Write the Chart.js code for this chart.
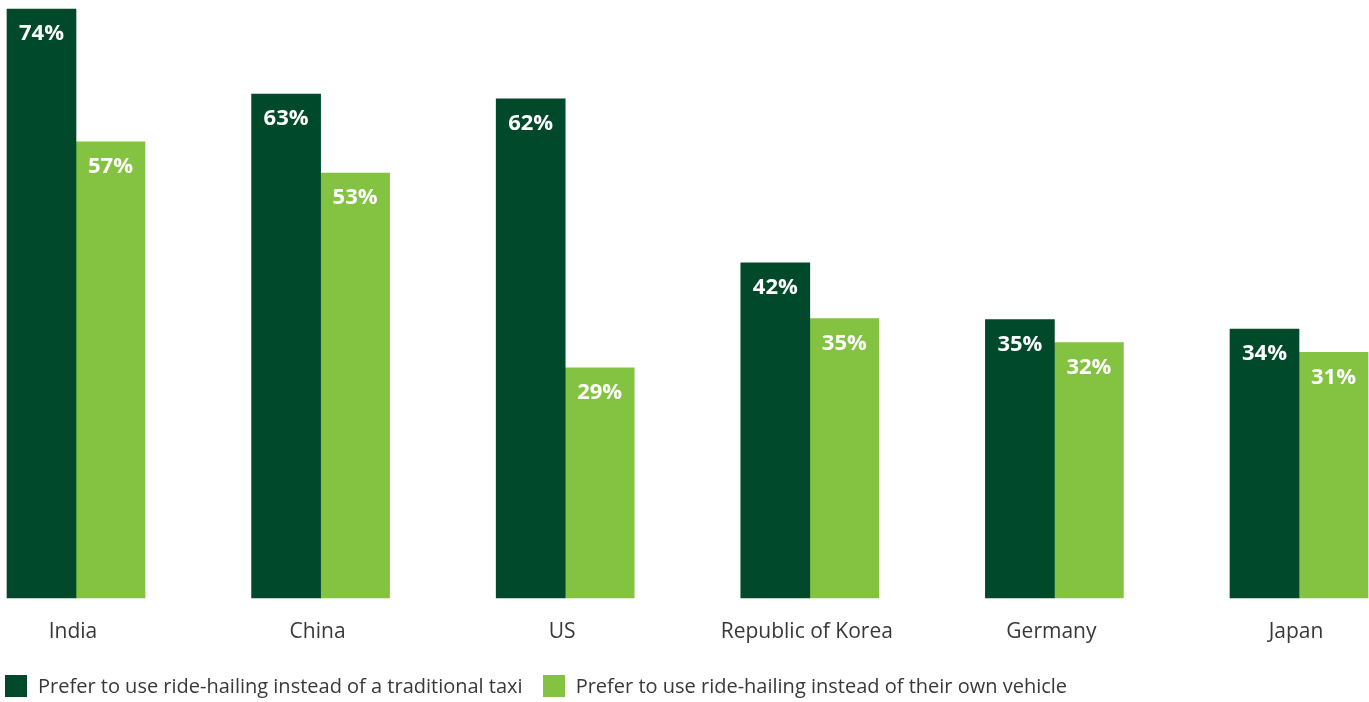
<!DOCTYPE html>
<html>
<head>
<meta charset="utf-8">
<script src="https://cdn.jsdelivr.net/npm/chart.js@4/dist/chart.umd.min.js"></script>
<style>
    html, body { margin: 0; padding: 0; background: #ffffff; }
    body { width: 1369px; height: 702px; position: relative; overflow: hidden; font-family: 'Open Sans', sans-serif; }
    #chartBox { position: absolute; left: 0; top: 0; width: 1369px; height: 684px; }
    .legend { position: absolute; left: 5px; top: 672px; display: flex; align-items: center; color: #383838; font-size: 20px; }
    .legend-item { display: flex; align-items: center; margin-right: 20px; white-space: nowrap; }
    .legend-swatch { width: 22px; height: 22px; margin-right: 11px; }
</style>
</head>
<body>
<div id="chartBox"><canvas id="rideChart"></canvas></div>
<div class="legend" id="legend"></div>
<script>
// Chart data
const countries = ['India', 'China', 'US', 'Republic of Korea', 'Germany', 'Japan'];
const taxiShare = [73.6, 63.0, 62.4, 41.9, 34.8, 33.6];
const ownVehicleShare = [57.0, 53.1, 28.75, 34.9, 31.9, 30.7];
const seriesNames = [
    'Prefer to use ride-hailing instead of a traditional taxi',
    'Prefer to use ride-hailing instead of their own vehicle'
];
const seriesColors = ['#00492b', '#84c341'];

// Draws the white % labels inside the top of each bar
const barLabels = {
    id: 'barLabels',
    afterDatasetsDraw(chart) {
        const ctx = chart.ctx;
        ctx.save();
        ctx.fillStyle = '#ffffff';
        ctx.font = 'bold 22px "Open Sans", sans-serif';
        ctx.textAlign = 'center';
        ctx.textBaseline = 'middle';
        chart.data.datasets.forEach((ds, i) => {
            const meta = chart.getDatasetMeta(i);
            meta.data.forEach((bar, j) => {
                ctx.fillText(Math.round(ds.data[j]) + '%', bar.x, bar.y + 25);
            });
        });
        ctx.restore();
    }
};

const rideChart = new Chart(document.getElementById('rideChart'), {
    type: 'bar',
    data: {
        labels: countries,
        datasets: [
            {
                label: seriesNames[0],
                data: taxiShare,
                backgroundColor: seriesColors[0],
                barThickness: 69,
                clip: false
            },
            {
                label: seriesNames[1],
                data: ownVehicleShare,
                backgroundColor: seriesColors[1],
                barThickness: 69,
                clip: false
            }
        ]
    },
    options: {
        responsive: true,
        maintainAspectRatio: false,
        animation: false,
        layout: { padding: { left: 76, right: 70, top: 0, bottom: 17 } },
        plugins: {
            legend: { display: false },
            tooltip: { enabled: false }
        },
        scales: {
            x: {
                offset: false,
                grid: { display: false, drawTicks: false },
                border: { display: false },
                ticks: {
                    color: '#383838',
                    padding: 22,
                    maxRotation: 0,
                    autoSkip: false,
                    labelOffset: -3,
                    font: { family: "'Open Sans', sans-serif", size: 21 }
                }
            },
            y: {
                display: false,
                min: 0,
                max: 74.75
            }
        }
    },
    plugins: [barLabels]
});

// HTML legend
document.getElementById('legend').innerHTML = seriesNames.map((name, i) => `
    <div class="legend-item">
        <div class="legend-swatch" style="background: ${seriesColors[i]};"></div>
        <span>${name}</span>
    </div>
`).join('');
</script>
</body>
</html>
